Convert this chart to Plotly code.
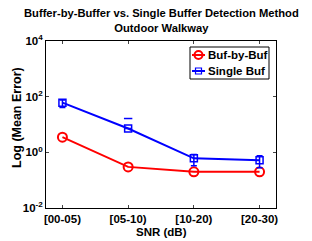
import plotly.graph_objects as go

categories = ["[00-05)", "[05-10)", "[10-20)", "[20-30)"]
buf_by_buf = [3.5, 0.30, 0.20, 0.20]
single_buf = [61, 7.2, 0.61, 0.52]
single_err_plus = [15, 0, 0.22, 0.24]
single_err_minus = [20, 0, 0.28, 0.24]
single_cap_extra = [None, 16.4, None, None]
series_names = ["Buf-by-Buf", "Single Buf"]
series_colors = ["#ff0000", "#0000ff"]

x = [1, 2, 3, 4]
FONT = "Liberation Sans, Arial, Helvetica, sans-serif"
FS = 11.5
W, H = 312, 241
L, R, T, B = 46, 36, 41, 33
PW, PH = W - L - R, H - T - B


def px_x(p):
    return (p - L) / PW


def px_y(p):
    return (H - B - p) / PH


fig = go.Figure()
fig.add_trace(go.Scatter(
    x=x, y=buf_by_buf, name=series_names[0], mode="lines+markers",
    line=dict(color=series_colors[0], width=2),
    marker=dict(symbol="circle-open", size=9, color=series_colors[0], line=dict(width=2, color=series_colors[0])),
))
fig.add_trace(go.Scatter(
    x=x, y=single_buf, name=series_names[1], mode="lines+markers",
    line=dict(color=series_colors[1], width=2),
    marker=dict(symbol="square-open", size=7, color=series_colors[1], line=dict(width=1.5, color=series_colors[1])),
    error_y=dict(type="data", array=single_err_plus, arrayminus=single_err_minus,
                 color=series_colors[1], thickness=1.5, width=3, symmetric=False),
))
fig.add_trace(go.Scatter(
    x=x, y=single_cap_extra, mode="markers", showlegend=False,
    marker=dict(symbol="line-ew", size=6, color=series_colors[1], line=dict(width=1.5, color=series_colors[1])),
))

shapes = []
annotations = []
# legend box
shapes.append(dict(type="rect", xref="paper", yref="paper",
                   x0=px_x(190), x1=px_x(269), y0=px_y(79), y1=px_y(47),
                   line=dict(color="black", width=1), fillcolor="white", layer="above"))
rows = [55, 71]
for i, (name, col) in enumerate(zip(series_names, series_colors)):
    yc = rows[i]
    shapes.append(dict(type="line", xref="paper", yref="paper",
                       x0=px_x(192), x1=px_x(205), y0=px_y(yc), y1=px_y(yc),
                       line=dict(color=col, width=2), layer="above"))
    if i == 0:
        shapes.append(dict(type="circle", xref="paper", yref="paper",
                           x0=px_x(194.5), x1=px_x(202.5), y0=px_y(yc + 4), y1=px_y(yc - 4),
                           line=dict(color=col, width=2), layer="above"))
    else:
        shapes.append(dict(type="rect", xref="paper", yref="paper",
                           x0=px_x(195.5), x1=px_x(201.5), y0=px_y(yc + 3), y1=px_y(yc - 3),
                           line=dict(color=col, width=1.2), layer="above"))
    annotations.append(dict(text="<b>" + name + "</b>", xref="paper", yref="paper",
                            x=px_x(205.5), y=px_y(yc), xanchor="left", yanchor="middle",
                            showarrow=False, font=dict(family=FONT, size=FS, color="black")))

annotations.append(dict(text="<b>Buffer-by-Buffer vs. Single Buffer Detection Method</b><br><b>Outdoor Walkway</b>",
                        xref="paper", yref="paper", x=px_x(161), y=px_y(21),
                        xanchor="center", yanchor="middle", showarrow=False,
                        font=dict(family=FONT, size=11.2, color="black")))
annotations.append(dict(text="<b>Log (Mean Error)</b>", xref="paper", yref="paper",
                        x=px_x(17), y=px_y(118), xanchor="center", yanchor="middle",
                        textangle=-90, showarrow=False, font=dict(family=FONT, size=12.5, color="black")))
annotations.append(dict(text="<b>SNR (dB)</b>", xref="paper", yref="paper",
                        x=px_x(161), y=px_y(231.5), xanchor="center", yanchor="middle",
                        showarrow=False, font=dict(family=FONT, size=FS, color="black")))

fig.update_layout(
    width=W, height=H,
    margin=dict(l=L, r=R, t=T, b=B, autoexpand=False),
    paper_bgcolor="white", plot_bgcolor="white",
    font=dict(family=FONT, size=FS, color="black"),
    showlegend=False,
    shapes=shapes, annotations=annotations,
)
fig.update_xaxes(
    range=[0.75, 4.25], tickvals=x, ticktext=categories,
    ticks="inside", ticklen=3, showline=True, linecolor="black", linewidth=1,
    mirror="allticks", showgrid=False, zeroline=False, automargin=False,
    tickfont=dict(family=FONT, size=FS, weight="bold"),
)
fig.update_yaxes(
    type="log", range=[-2, 4],
    tickvals=[0.01, 1, 100, 10000],
    ticktext=["10<sup>-2</sup>", "10<sup>0</sup>", "10<sup>2</sup>", "10<sup>4</sup>"],
    ticks="inside", ticklen=3, showline=True, linecolor="black", linewidth=1,
    mirror="allticks", showgrid=False, zeroline=False, automargin=False,
    tickfont=dict(family=FONT, size=FS, weight="bold"),
)

fig.write_html("out.html", config={"displayModeBar": False},
               post_script="document.body.style.margin='0px';document.body.style.overflow='hidden';")
